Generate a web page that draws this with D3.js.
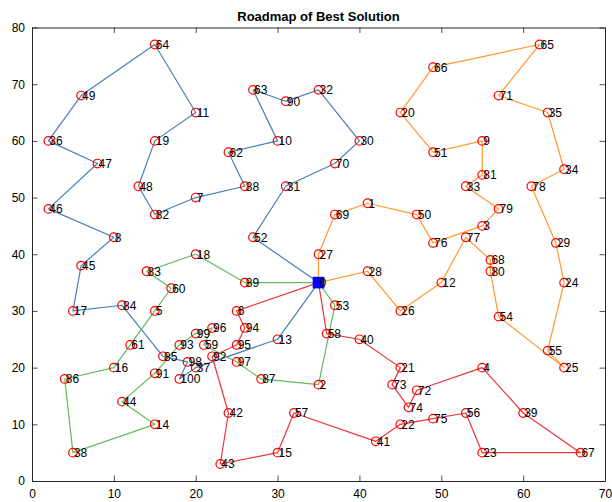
<!DOCTYPE html>
<html>
<head>
<meta charset="utf-8">
<script src="https://cdn.jsdelivr.net/npm/d3@7"></script>
<style>
  html, body { margin: 0; padding: 0; background: #fff; }
  svg { display: block; font-family: "Liberation Sans", Arial, Helvetica, sans-serif; }
</style>
</head>
<body>
<svg id="chart" width="612" height="502"></svg>
<script>
// Customer coordinates (index = node id, 0 = depot)
const nodeX = [35,41,35,55,55,15,25,20,10,55,30,20,50,30,15,30,10,5,20,15,45,45,45,55,65,65,45,35,41,64,40,31,35,53,65,63,2,20,5,60,40,42,24,23,11,6,2,8,13,6,47,49,27,37,57,63,53,32,36,21,17,12,24,27,15,62,49,67,56,37,37,57,47,44,46,49,49,53,61,57,56,55,15,14,11,16,4,28,26,26,31,15,22,18,26,25,22,25,19,20,18];
const nodeY = [35,49,17,45,20,30,30,50,43,60,60,65,35,25,10,5,20,30,40,60,65,20,10,5,35,20,30,40,37,42,60,52,69,52,55,65,60,20,5,12,25,7,12,3,14,38,48,56,52,68,47,58,43,31,29,23,12,12,26,24,34,24,58,69,77,77,73,5,39,47,56,68,16,17,13,11,42,43,52,48,37,54,47,37,31,22,18,18,52,35,67,19,22,24,27,24,27,21,21,26,18];

// Vehicle routes, each starting and ending at the depot
const routeBlue   = [0,52,31,70,30,32,90,63,10,62,88,7,82,48,19,11,64,49,36,47,46,8,45,17,84,85,98,100,37,13,0];
const routeOrange = [0,27,69,1,50,76,3,79,33,81,9,51,20,66,65,71,35,34,78,29,24,55,25,54,80,68,77,12,26,28,0];
const routeGreen  = [0,89,18,83,60,5,61,16,86,38,14,44,91,93,99,96,59,97,87,2,53,0];
const routeRed    = [0,6,94,95,92,42,43,15,57,41,22,75,56,23,67,39,4,72,74,73,21,40,58,0];

const routes = [
  { path: routeBlue,   color: "#4a7fb5" },
  { path: routeOrange, color: "#ff9a2e" },
  { path: routeGreen,  color: "#66bb5e" },
  { path: routeRed,    color: "#e8383d" }
];

const xTicks = [0,10,20,30,40,50,60,70];
const yTicks = [0,10,20,30,40,50,60,70,80];

const W = 612, H = 502;
const margin = { left: 32, right: 7, top: 27.5, bottom: 21 };
const svg = d3.select("#chart");

const x = d3.scaleLinear().domain([0,70]).range([margin.left, W - margin.right]);
const y = d3.scaleLinear().domain([0,80]).range([H - margin.bottom, margin.top]);

// Route polylines
const line = d3.line().x(i => x(nodeX[i])).y(i => y(nodeY[i]));
svg.append("g").selectAll("path").data(routes).join("path")
  .attr("d", r => line(r.path))
  .attr("fill", "none")
  .attr("stroke", d => d.color)
  .attr("stroke-width", 1.2)
  .attr("stroke-linejoin", "round");

// Customer markers
const customers = d3.range(1, nodeX.length);
svg.append("g").selectAll("circle").data(customers).join("circle")
  .attr("cx", i => x(nodeX[i]))
  .attr("cy", i => y(nodeY[i]))
  .attr("r", 4.3)
  .attr("fill", "none")
  .attr("stroke", "#ff0000")
  .attr("stroke-width", 1.2);

// Depot marker
svg.append("rect")
  .attr("x", x(nodeX[0]) - 5.8)
  .attr("y", y(nodeY[0]) - 5.8)
  .attr("width", 11.6)
  .attr("height", 11.6)
  .attr("fill", "#0000ff");

// Node labels
svg.append("g").selectAll("text").data(d3.range(0, nodeX.length)).join("text")
  .attr("x", i => x(nodeX[i]) + 1)
  .attr("y", i => y(nodeY[i]))
  .attr("dy", "0.36em")
  .attr("font-size", 12)
  .attr("fill", "#000")
  .text(i => String(i));

// Axes (ticks point inward, box on all four sides)
const axisColor = "#262626";
const tickLen = 5.5;
const gx = svg.append("g").attr("transform", `translate(0,${y(0)})`)
  .call(d3.axisBottom(x).tickValues(xTicks).tickSizeInner(-tickLen).tickSizeOuter(0).tickPadding(8));
const gxTop = svg.append("g").attr("transform", `translate(0,${y(80)})`)
  .call(d3.axisTop(x).tickValues(xTicks).tickSizeInner(-tickLen).tickSizeOuter(0).tickFormat(""));
const gy = svg.append("g").attr("transform", `translate(${x(0)},0)`)
  .call(d3.axisLeft(y).tickValues(yTicks).tickSizeInner(-tickLen).tickSizeOuter(0).tickPadding(7));
const gyRight = svg.append("g").attr("transform", `translate(${x(70)},0)`)
  .call(d3.axisRight(y).tickValues(yTicks).tickSizeInner(-tickLen).tickSizeOuter(0).tickFormat(""));

[gx, gxTop, gy, gyRight].forEach(g => {
  g.select(".domain").attr("stroke", axisColor).attr("stroke-width", 1);
  g.selectAll(".tick line").attr("stroke", axisColor).attr("stroke-width", 0.8);
  g.selectAll(".tick text")
    .attr("fill", "#000")
    .attr("font-size", 12)
    .attr("font-family", "'Liberation Sans', Arial, Helvetica, sans-serif");
});

// Title
svg.append("text")
  .attr("x", (x(0) + x(70)) / 2)
  .attr("y", 21)
  .attr("text-anchor", "middle")
  .attr("font-size", 13)
  .attr("font-weight", "bold")
  .attr("fill", "#000")
  .text("Roadmap of Best Solution");
</script>
</body>
</html>
